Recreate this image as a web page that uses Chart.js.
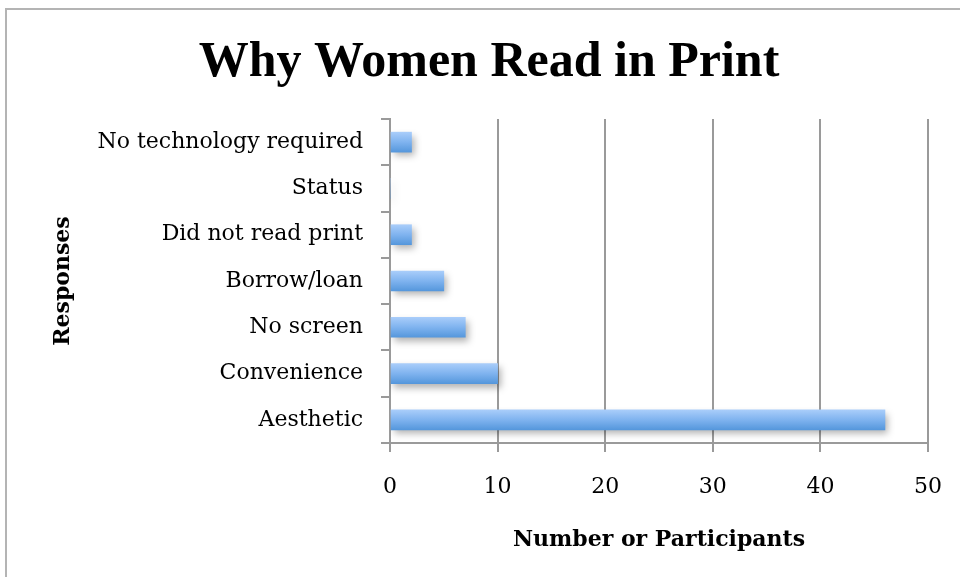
<!DOCTYPE html>
<html>
<head>
<meta charset="utf-8">
<script src="https://cdn.jsdelivr.net/npm/chart.js@4/dist/chart.umd.min.js"></script>
<style>
  html, body { margin: 0; padding: 0; background: #fff; }
  #frame { position: absolute; left: 5px; top: 8px; width: 1000px; height: 600px;
           border-left: 2px solid #b4b4b4; border-top: 2px solid #b4b4b4; }
  #wrap { position: absolute; left: 0; top: 0; width: 960px; height: 577px; }
</style>
</head>
<body>
<div id="frame"></div>
<div id="wrap"><canvas id="readChart"></canvas></div>
<script>
// data, top to bottom as shown
const categories = ["No technology required", "Status", "Did not read print", "Borrow/loan", "No screen", "Convenience", "Aesthetic"];
const participants = [2, 0, 2, 5, 7, 10, 46];
const xTicks = [0, 10, 20, 30, 40, 50];

const serif = "'DejaVu Serif', 'Liberation Serif', serif";
const titleSerif = "'Liberation Serif', serif";
const barH = 20;

// soft drop shadow under the bars
const shadowPlugin = {
    id: "barShadow",
    beforeDatasetDraw(chart) {
        const c = chart.ctx;
        c.save();
        c.shadowColor = "rgba(0,0,0,0.3)";
        c.shadowBlur = 7;
        c.shadowOffsetX = 3;
        c.shadowOffsetY = 4;
    },
    afterDatasetDraw(chart) {
        chart.ctx.restore();
    }
};

const ctx = document.getElementById("readChart").getContext("2d");
const chart = new Chart(ctx, {
    type: "bar",
    data: {
        labels: categories,
        datasets: [{
            label: "Participants",
            data: participants,
            barThickness: barH,
            borderWidth: 0,
            backgroundColor: function(context) {
                const ch = context.chart;
                const y = ch.scales.y;
                if (!y || context.dataIndex === undefined) return "#7fb2ee";
                const mid = y.getPixelForValue(context.dataIndex);
                if (!isFinite(mid)) return "#7fb2ee";
                const g = ch.ctx.createLinearGradient(0, mid - barH / 2, 0, mid + barH / 2);
                g.addColorStop(0, "#a9cdfa");
                g.addColorStop(0.5, "#7fb3ef");
                g.addColorStop(1, "#5597dc");
                return g;
            }
        }]
    },
    options: {
        indexAxis: "y",
        responsive: true,
        maintainAspectRatio: false,
        animation: false,
        layout: { padding: { left: 50, right: 32, top: 0, bottom: 0 } },
        plugins: {
            legend: { display: false },
            tooltip: { enabled: false },
            title: {
                display: true,
                text: "Why Women Read in Print",
                color: "#000",
                font: { family: titleSerif, size: 50, weight: "bold" },
                padding: { top: 33, bottom: 26 }
            }
        },
        scales: {
            x: {
                min: 0,
                max: 50,
                afterBuildTicks: function(scale) {
                    scale.ticks = xTicks.map(v => ({ value: v }));
                },
                afterFit: function(scale) {
                    scale.height = 134;
                    scale.paddingLeft = 0;
                    scale.paddingRight = 0;
                },
                grid: { color: "#9a9a9a", lineWidth: 2, tickLength: 9 },
                border: { color: "#9a9a9a", width: 2 },
                ticks: { color: "#000", font: { family: serif, size: 22 }, padding: 22 },
                title: {
                    display: true,
                    text: "Number or Participants",
                    color: "#000",
                    font: { family: serif, size: 22, weight: "bold" },
                    padding: { top: 0, bottom: 24 }
                }
            },
            y: {
                afterFit: function(scale) { scale.width = 340; },
                grid: { drawOnChartArea: false, color: "#9a9a9a", lineWidth: 2, tickLength: 9 },
                border: { color: "#9a9a9a", width: 2 },
                ticks: { color: "#000", font: { family: serif, size: 22 }, padding: 18 },
                title: {
                    display: true,
                    text: "Responses",
                    color: "#000",
                    font: { family: serif, size: 22, weight: "bold" },
                    padding: { top: 0, bottom: 0 }
                }
            }
        }
    },
    plugins: [shadowPlugin]
});
</script>
</body>
</html>
